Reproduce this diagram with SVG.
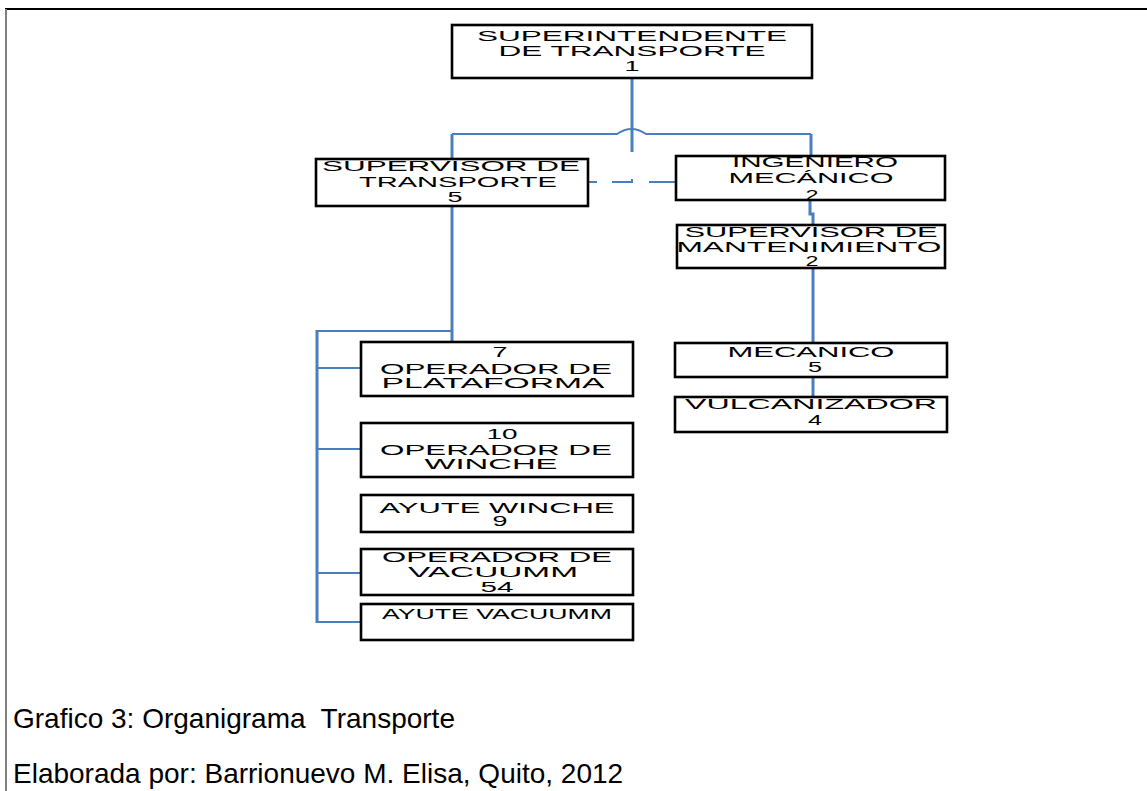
<svg xmlns="http://www.w3.org/2000/svg" width="1147" height="791" viewBox="0 0 1147 791">
<style>
.box{fill:#fff;stroke:#000;stroke-width:2.6}
.t{font-family:"Liberation Sans",Arial,sans-serif;font-size:14.5px;fill:#000;text-anchor:middle}
.c{fill:none;stroke:#4a7ebf;stroke-width:2}
.v{fill:none;stroke:#4a7ebf;stroke-width:3}
.cap{font-family:"Liberation Sans",Arial,sans-serif;font-size:28px;fill:#000;white-space:pre}
</style>
<rect x="0" y="0" width="1147" height="791" fill="#fff"/>
<line x1="5" y1="9" x2="1147" y2="9" stroke="#000" stroke-width="2"/>
<line x1="6" y1="9" x2="6" y2="791" stroke="#808080" stroke-width="2"/>

<g id="connectors">
  <path class="v" d="M632 78 V152"/>
  <path class="c" d="M452 134 H617 Q631.5 124 646 134 H811"/>
  <path class="v" d="M452 134 V159"/>
  <path class="v" d="M811 134 V156"/>
  <path class="c" d="M586 182 H597 M612 182 H632 V179 M649 182 H677"/>
  <path class="v" d="M810 200 V214 H813 V225"/>
  <path class="v" d="M813 268 V343"/>
  <path class="v" d="M813 377 V397"/>
  <path class="v" d="M452 206 V350"/>
  <path class="c" d="M317 331 H452"/>
  <path class="v" d="M317 330 V623"/>
  <path class="c" d="M317 368 H361 M317 449 H361 M317 573 H361 M317 622 H361"/>
</g>

<g id="n-superintendente">
  <rect class="box" x="452" y="25" width="360" height="53"/>
  <text class="t" x="632" y="41" textLength="310" lengthAdjust="spacingAndGlyphs">SUPERINTENDENTE</text>
  <text class="t" x="632" y="56" textLength="267" lengthAdjust="spacingAndGlyphs">DE TRANSPORTE</text>
  <text class="t" x="632" y="71" textLength="15" lengthAdjust="spacingAndGlyphs">1</text>
</g>

<g id="n-supervisor-transporte">
  <rect class="box" x="316" y="159" width="272" height="47"/>
  <text class="t" x="451" y="171" textLength="258" lengthAdjust="spacingAndGlyphs">SUPERVISOR DE</text>
  <text class="t" x="458" y="187" textLength="198" lengthAdjust="spacingAndGlyphs">TRANSPORTE</text>
  <text class="t" x="455" y="202" textLength="15" lengthAdjust="spacingAndGlyphs">5</text>
</g>

<g id="n-ingeniero">
  <rect class="box" x="676" y="156" width="269" height="44"/>
  <text class="t" x="815" y="167" textLength="166" lengthAdjust="spacingAndGlyphs">INGENIERO</text>
  <text class="t" x="811" y="183" textLength="165" lengthAdjust="spacingAndGlyphs">MECÁNICO</text>
  <text class="t" x="812" y="200" textLength="13" lengthAdjust="spacingAndGlyphs">2</text>
</g>

<g id="n-supervisor-mantenimiento">
  <rect class="box" x="677" y="225" width="268" height="43"/>
  <text class="t" x="811" y="237" textLength="253" lengthAdjust="spacingAndGlyphs">SUPERVISOR DE</text>
  <text class="t" x="809" y="252" textLength="265" lengthAdjust="spacingAndGlyphs">MANTENIMIENTO</text>
  <text class="t" x="812" y="266" textLength="13" lengthAdjust="spacingAndGlyphs">2</text>
</g>

<g id="n-mecanico">
  <rect class="box" x="675" y="343" width="272" height="34"/>
  <text class="t" x="811" y="357" textLength="167" lengthAdjust="spacingAndGlyphs">MECANICO</text>
  <text class="t" x="815" y="372" textLength="14" lengthAdjust="spacingAndGlyphs">5</text>
</g>

<g id="n-vulcanizador">
  <rect class="box" x="675" y="397" width="272" height="35"/>
  <text class="t" x="811" y="409" textLength="252" lengthAdjust="spacingAndGlyphs">VULCANIZADOR</text>
  <text class="t" x="815" y="425" textLength="14" lengthAdjust="spacingAndGlyphs">4</text>
</g>

<g id="n-operador-plataforma">
  <rect class="box" x="361" y="342" width="272" height="54"/>
  <text class="t" x="500" y="357" textLength="15" lengthAdjust="spacingAndGlyphs">7</text>
  <text class="t" x="496" y="374" textLength="232" lengthAdjust="spacingAndGlyphs">OPERADOR DE</text>
  <text class="t" x="493" y="388" textLength="223" lengthAdjust="spacingAndGlyphs">PLATAFORMA</text>
</g>

<g id="n-operador-winche">
  <rect class="box" x="361" y="423" width="272" height="54"/>
  <text class="t" x="502" y="439" textLength="31" lengthAdjust="spacingAndGlyphs">10</text>
  <text class="t" x="496" y="455" textLength="232" lengthAdjust="spacingAndGlyphs">OPERADOR DE</text>
  <text class="t" x="491" y="469" textLength="133" lengthAdjust="spacingAndGlyphs">WINCHE</text>
</g>

<g id="n-ayute-winche">
  <rect class="box" x="361" y="495" width="272" height="37"/>
  <text class="t" x="497" y="513" textLength="235" lengthAdjust="spacingAndGlyphs">AYUTE WINCHE</text>
  <text class="t" x="500" y="526" textLength="15" lengthAdjust="spacingAndGlyphs">9</text>
</g>

<g id="n-operador-vacuumm">
  <rect class="box" x="361" y="549" width="272" height="46"/>
  <text class="t" x="497" y="562" textLength="230" lengthAdjust="spacingAndGlyphs">OPERADOR DE</text>
  <text class="t" x="493" y="577" textLength="170" lengthAdjust="spacingAndGlyphs">VACUUMM</text>
  <text class="t" x="497" y="592" textLength="33" lengthAdjust="spacingAndGlyphs">54</text>
</g>

<g id="n-ayute-vacuumm">
  <rect class="box" x="361" y="604" width="272" height="36"/>
  <text class="t" x="497" y="619" textLength="230" lengthAdjust="spacingAndGlyphs">AYUTE VACUUMM</text>
</g>

<text class="cap" x="13" y="728" xml:space="preserve">Grafico 3: Organigrama  Transporte</text>
<text class="cap" x="13" y="783">Elaborada por: Barrionuevo M. Elisa, Quito, 2012</text>
</svg>
